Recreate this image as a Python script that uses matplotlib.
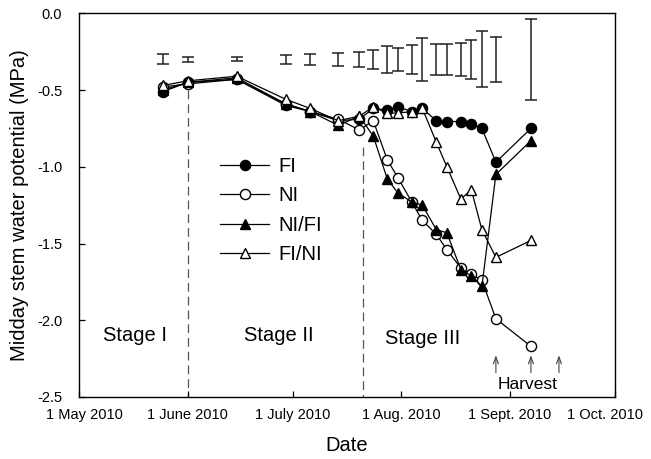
import datetime as dt
import numpy as np
import matplotlib
matplotlib.use("Agg")
import matplotlib.pyplot as plt
import matplotlib.dates as mdates
from matplotlib.lines import Line2D
from matplotlib.transforms import ScaledTranslation

plt.rcParams['font.family'] = ['Liberation Sans', 'DejaVu Sans']
plt.rcParams['axes.unicode_minus'] = False

D = lambda m, d: dt.datetime(2010, m, d)

# measurement dates
dates = [D(5, 25), D(6, 1), D(6, 15), D(6, 29), D(7, 6), D(7, 14), D(7, 20), D(7, 24),
         D(7, 28), D(7, 31), D(8, 4), D(8, 7), D(8, 11), D(8, 14), D(8, 18), D(8, 21),
         D(8, 24), D(8, 28), D(9, 7)]

FI = [-0.51, -0.45, -0.43, -0.60, -0.64, -0.70, -0.69, -0.62, -0.63, -0.61, -0.64, -0.62,
      -0.70, -0.705, -0.705, -0.72, -0.75, -0.97, -0.75]
NI = [-0.48, -0.46, -0.43, -0.59, -0.64, -0.69, -0.76, -0.70, -0.955, -1.07, -1.23, -1.35,
      -1.44, -1.54, -1.66, -1.70, -1.74, -1.99, -2.17]
NI_FI = [-0.50, -0.45, -0.42, -0.59, -0.64, -0.73, -0.67, -0.80, -1.08, -1.17, -1.23, -1.25,
         -1.41, -1.43, -1.67, -1.71, -1.78, -1.05, -0.83]
FI_NI = [-0.47, -0.44, -0.41, -0.56, -0.62, -0.70, -0.67, -0.61, -0.65, -0.65, -0.64, -0.62,
         -0.84, -1.00, -1.21, -1.15, -1.41, -1.59, -1.48]

# error bars (drawn at top of plot)
err_center = -0.30
err_half = [0.033, 0.018, 0.013, 0.030, 0.036, 0.044, 0.051, 0.060, 0.090, 0.076, 0.096,
            0.141, 0.100, 0.103, 0.107, 0.125, 0.182, 0.147, 0.266]

stage_lines = [D(6, 1), D(7, 21)]
stage_line_tops = [-0.50, -0.87]
stage_labels = ["Stage I", "Stage II", "Stage III"]
stage_label_x = [D(5, 17), D(6, 27), D(8, 7)]
stage_label_y = [-2.10, -2.10, -2.12]

harvest_dates = [D(8, 28), D(9, 7), D(9, 15)]

xtick_dates = [D(5, 1), D(6, 1), D(7, 1), D(8, 1), D(9, 1), D(10, 1)]
xtick_labels = ["1 May 2010", "1 June 2010", "1 July 2010", "1 Aug. 2010",
                "1 Sept. 2010", "1 Oct. 2010"]
yticks = [0.0, -0.5, -1.0, -1.5, -2.0, -2.5]

fig = plt.figure(figsize=(6.51, 4.59), dpi=100)
ax = fig.add_axes([0.1214, 0.1351, 0.8233, 0.8359])

# error bars
ax.errorbar(dates, [err_center] * len(dates), yerr=err_half, fmt='none',
            ecolor='#222222', elinewidth=1.1, capsize=4, capthick=1.1)

# stage dividers
for x, top in zip(stage_lines, stage_line_tops):
    ax.plot([x, x], [top, -2.5], color='#555555', lw=0.9, ls=(0, (7, 4)), zorder=1)

mk = dict(ms=7.3, mew=1.0, lw=0.9, color='black', mec='black')
ax.plot(dates, FI, marker='o', mfc='black', label='FI', zorder=3, **mk)
ax.plot(dates, NI, marker='o', mfc='white', label='NI', zorder=4, **mk)
ax.plot(dates, NI_FI, marker='^', mfc='black', label='NI/FI', zorder=5, **mk)
ax.plot(dates, FI_NI, marker='^', mfc='white', label='FI/NI', zorder=6, **mk)

for txt, x, y in zip(stage_labels, stage_label_x, stage_label_y):
    ax.text(x, y, txt, ha='center', va='center', fontsize=14.5)

for x in harvest_dates:
    ax.annotate('', xy=(x, -2.21), xytext=(x, -2.36),
                arrowprops=dict(arrowstyle='->,head_length=0.5,head_width=0.18',
                                lw=0.8, color='#444444'))
ax.text(D(9, 6), -2.42, "Harvest", ha='center', va='center', fontsize=12.5)

leg = ax.legend(loc='upper left', bbox_to_anchor=(0.245, 0.652), frameon=False,
                fontsize=14.5, handlelength=2.4, labelspacing=0.52,
                handletextpad=0.5, borderpad=0)

ax.set_xlim(D(5, 1), D(10, 1))
ax.set_ylim(-2.5, 0.0)
ax.set_xticks(xtick_dates)
ax.set_xticklabels(xtick_labels, fontsize=10.5)
ax.set_yticks(yticks)
ax.set_yticklabels([f"{v:.1f}" for v in yticks], fontsize=10.5)
ax.tick_params(axis='both', direction='in', length=4, width=0.9)
ax.tick_params(axis='x', pad=8)
ax.tick_params(axis='y', pad=12)
labs = ax.get_xticklabels()
labs[0].set_transform(labs[0].get_transform() + ScaledTranslation(0.05, 0, fig.dpi_scale_trans))
labs[-1].set_transform(labs[-1].get_transform() + ScaledTranslation(-0.10, 0, fig.dpi_scale_trans))

for s in ax.spines.values():
    s.set_linewidth(1.0)

ax.set_xlabel("Date", fontsize=14.5, labelpad=10)
ax.set_ylabel("Midday stem water potential (MPa)", fontsize=14.5, labelpad=6)

fig.savefig("out.png", dpi=100)
